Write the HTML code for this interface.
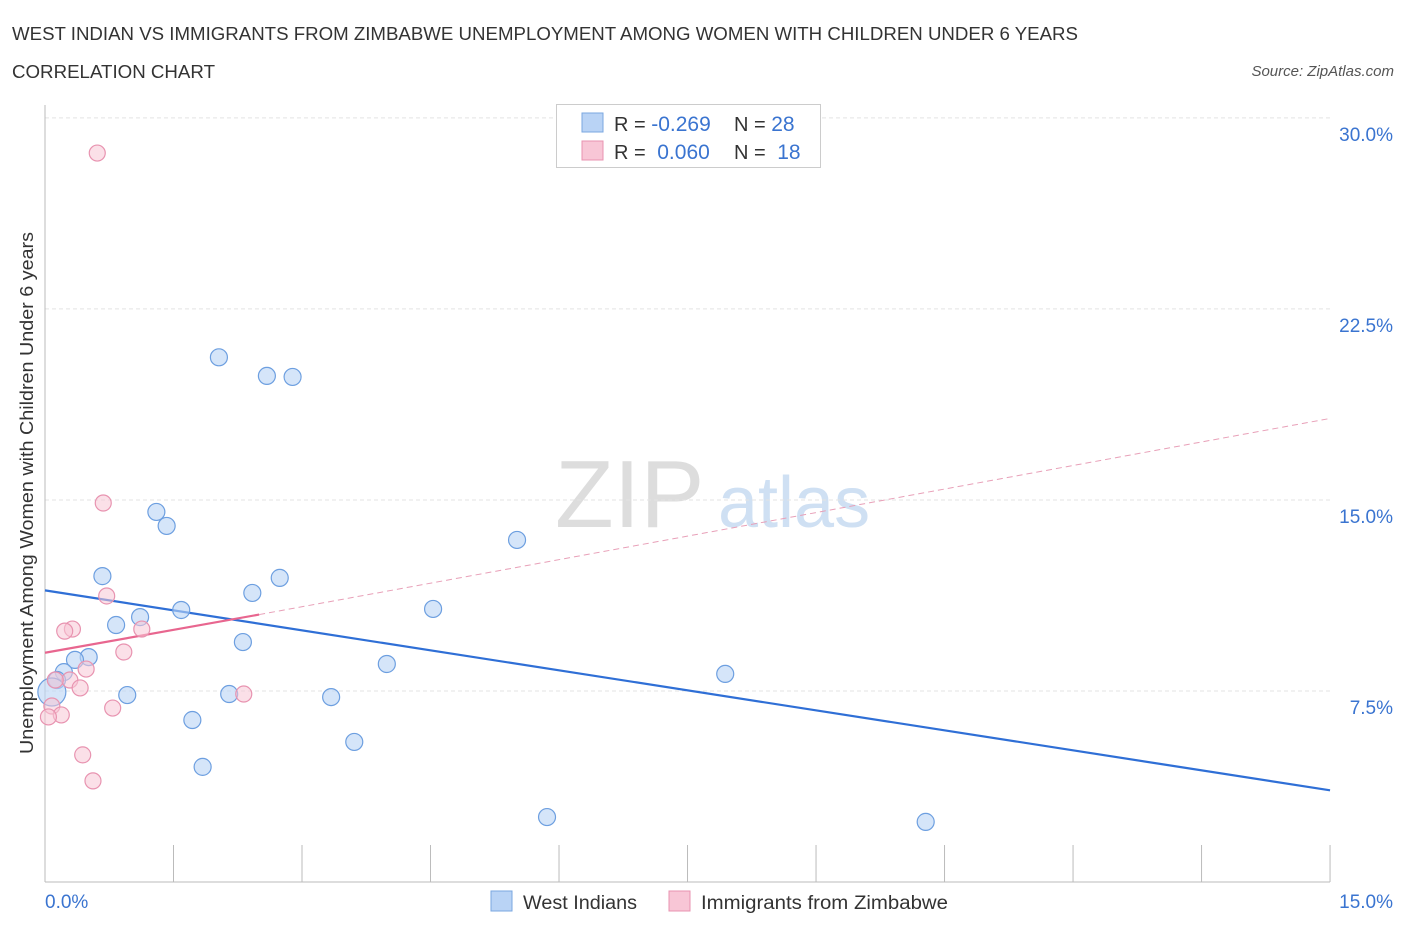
<!DOCTYPE html>
<html><head><meta charset="utf-8"><style>
body{margin:0;background:#fff;font-family:"Liberation Sans",sans-serif;}
svg text{font-family:"Liberation Sans",sans-serif;}
</style></head><body>
<svg id="chart" width="1406" height="930" xmlns="http://www.w3.org/2000/svg">
<text x="12" y="40" font-size="18" fill="#333" textLength="1066" lengthAdjust="spacingAndGlyphs">WEST INDIAN VS IMMIGRANTS FROM ZIMBABWE UNEMPLOYMENT AMONG WOMEN WITH CHILDREN UNDER 6 YEARS</text>
<text x="12" y="78" font-size="18" fill="#333" textLength="203" lengthAdjust="spacingAndGlyphs">CORRELATION CHART</text>
<text x="1394" y="76" font-size="15" fill="#555" text-anchor="end" font-style="italic">Source: ZipAtlas.com</text>
<text x="555" y="527" font-size="96" fill="#ddd" font-family="Liberation Serif">ZIP</text>
<text x="718" y="527" font-size="72" fill="#cfe0f3">atlas</text>
<g id="grid"></g><g id="axes"></g><g id="lines"></g><g id="pts"></g>
<text transform="translate(33,493) rotate(-90)" font-size="18" fill="#333" text-anchor="middle" textLength="522" lengthAdjust="spacingAndGlyphs">Unemployment Among Women with Children Under 6 years</text>
<g>
<rect x="556.5" y="104.5" width="264" height="63" fill="#fff" stroke="#ccc"/>
<rect x="582" y="113" width="21" height="19" fill="#b9d3f5" stroke="#7aa7e0"/>
<rect x="582" y="141" width="21" height="19" fill="#f8c6d6" stroke="#e893b0"/>
<text x="614" y="131" font-size="20" fill="#333">R = <tspan fill="#3a74d0" font-size="21">-0.269</tspan></text>
<text x="734" y="131" font-size="20" fill="#333">N = <tspan fill="#3a74d0" font-size="21">28</tspan></text>
<text x="614" y="159" font-size="20" fill="#333">R = <tspan fill="#3a74d0" dx="6" font-size="21">0.060</tspan></text>
<text x="734" y="159" font-size="20" fill="#333">N = <tspan fill="#3a74d0" dx="6" font-size="21">18</tspan></text>
</g>
<g>
<rect x="491" y="891" width="21" height="20" fill="#b9d3f5" stroke="#7aa7e0"/>
<text x="523" y="909" font-size="19" fill="#333" textLength="114" lengthAdjust="spacingAndGlyphs">West Indians</text>
<rect x="669" y="891" width="21" height="20" fill="#f8c6d6" stroke="#e893b0"/>
<text x="701" y="909" font-size="19" fill="#333" textLength="247" lengthAdjust="spacingAndGlyphs">Immigrants from Zimbabwe</text>
</g>
</svg>
<script>
const blueX=[2.03,2.59,2.89,1.30,1.42,5.51,0.67,2.74,2.42,1.59,4.53,1.11,0.83,2.31,0.51,0.35,3.99,0.22,7.94,0.14,0.08,0.96,2.15,3.34,1.72,3.61,1.84,5.86,10.28];
const blueY=[20.6,19.87,19.83,14.53,13.98,13.43,12.01,11.94,11.35,10.68,10.72,10.40,10.09,9.42,8.83,8.72,8.56,8.24,8.17,7.93,7.46,7.34,7.38,7.26,6.36,5.50,4.52,2.55,2.36];
const pinkX=[0.61,0.68,0.72,0.32,0.23,1.13,0.92,0.48,0.29,0.41,0.12,2.32,0.79,0.08,0.19,0.04,0.44,0.56];
const pinkY=[28.62,14.88,11.23,9.93,9.85,9.93,9.03,8.36,7.93,7.62,7.93,7.38,6.83,6.91,6.56,6.48,4.99,3.97];
const yTicks=[7.5,15,22.5,30];
const yTickLabels=["7.5%","15.0%","22.5%","30.0%"];
const blueTrend=[11.45,3.6];
const pinkTrend=[9.0,10.5,18.2];
const NS="http://www.w3.org/2000/svg";
const xs=v=>45+v*85.67, ys=v=>882-v*25.47;
function mk(tag,attrs,parent){const e=document.createElementNS(NS,tag);for(const k in attrs)e.setAttribute(k,attrs[k]);document.getElementById(parent).appendChild(e);return e;}
yTicks.forEach((t,i)=>{
 const l=mk('line',{x1:45,x2:1330,y1:ys(t),y2:ys(t),stroke:'#e3e3e3','stroke-dasharray':'4,3'},'grid');
 
 
 const tx=mk('text',{x:1393,y:ys(t)+23,'font-size':19,fill:'#3a74d0','text-anchor':'end'},'grid');
 tx.textContent=yTickLabels[i];
 
 
});
const ax=mk('line',{x1:45,x2:1330,y1:882,y2:882,stroke:'#bbb'},'axes');


const ay=mk('line',{x1:45,x2:45,y1:105,y2:882,stroke:'#bbb'},'axes');


for(let i=0;i<=10;i++){const x=xs(i*1.5);const t=mk('line',{x1:x,x2:x,y1:845,y2:882,stroke:'#bbb'},'axes');
 
 }
[["0.0%",45,'start'],["15.0%",1393,'end']].forEach(a=>{const t=mk('text',{x:a[1],y:908,'font-size':19,fill:'#3a74d0','text-anchor':a[2]},'axes');t.textContent=a[0];
 
 });
function pt(x,y,r,fill,stroke,name){const c=mk('circle',{cx:xs(x),cy:ys(y),r:r,fill:fill,stroke:stroke,'stroke-width':1.2},'pts');
 
 }
blueX.forEach((x,i)=>pt(x,blueY[i],i===20?14:8.5,'rgba(185,211,245,0.6)','#6d9fe0','west-indians-point'));
pinkX.forEach((x,i)=>pt(x,pinkY[i],8,'rgba(248,198,214,0.55)','#e893b0','zimbabwe-point'));
const bl=mk('line',{x1:xs(0),y1:ys(blueTrend[0]),x2:xs(15),y2:ys(blueTrend[1]),stroke:'#2f6fd6','stroke-width':2.2},'lines');


const pl=mk('line',{x1:xs(0),y1:ys(pinkTrend[0]),x2:xs(2.5),y2:ys(pinkTrend[1]),stroke:'#e8668f','stroke-width':2.2},'lines');


const pd=mk('line',{x1:xs(2.5),y1:ys(pinkTrend[1]),x2:xs(15),y2:ys(pinkTrend[2]),stroke:'#e8a0b8','stroke-width':1,'stroke-dasharray':'6,4'},'lines');


</script>
</body></html>
